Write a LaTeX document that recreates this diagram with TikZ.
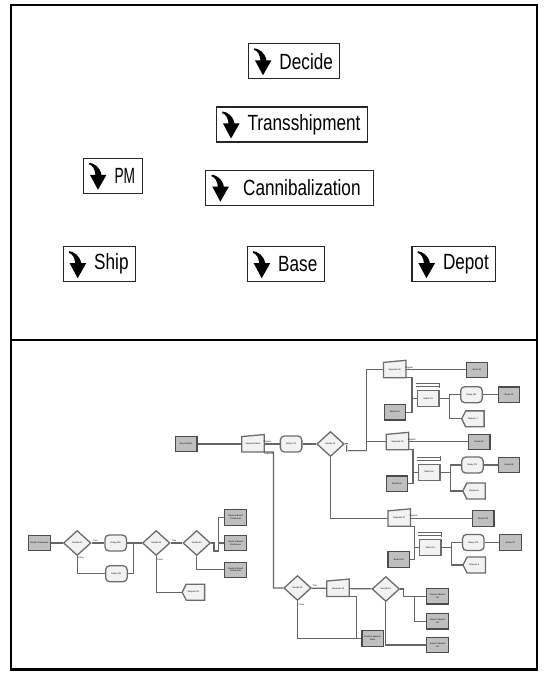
\documentclass[tikz,border=0pt]{standalone}
\usepackage{fontspec}
\newfontfamily\labelfont[FakeStretch=0.78]{Liberation Sans}
\newfontfamily\modfont{Liberation Sans}
\usetikzlibrary{shapes.geometric}
\newcommand{\tinytext}{\modfont\fontsize{2.2}{2.6}\selectfont}
\tikzset{frame/.style={line width=2.5pt,draw=black},
tbox/.style={rectangle,draw=black!85,line width=1.1pt,minimum height=35pt,inner xsep=7pt,font=\labelfont\fontsize{22}{26}\selectfont},
drop/.pic={\fill (0.5,1) .. controls (5,1.5) and (11,5) .. (12.5,13) -- (17.5,13) -- (9,28) -- (1,13) -- (6.5,13) .. controls (6,8) and (4,3.5) .. (0,2.5) -- cycle;},
modline/.style={draw=gray!85!black,line width=1.3pt,fill=gray!10},
stn/.style={rectangle,draw=gray!60!black,fill=gray!50,line width=1.1pt,minimum width=21.5pt,minimum height=15.5pt,inner sep=0pt,font=\tinytext,align=center},
dec/.style={diamond,modline,minimum width=27.5pt,minimum height=25pt,inner sep=0pt,font=\tinytext},
dly/.style={rectangle,rounded corners=4pt,modline,minimum width=21.5pt,minimum height=16pt,inner sep=0pt,font=\tinytext},
mat/.style={rectangle,modline,minimum width=21.5pt,minimum height=16pt,inner sep=0pt,font=\tinytext},
blank/.style={rectangle,minimum width=22pt,minimum height=15.5pt,inner sep=0pt},
modtext/.style={font=\tinytext,inner sep=0pt,align=center},
conn/.style={draw=gray!80!black,line width=1.2pt},
lbl/.style={font=\tinytext,inner sep=0.6pt}}
\newcommand{\sepmod}[3]{\node[blank] (#1) at (#2) {};
\filldraw[modline] (#1.south west) -- (#1.south east) -- ([yshift=1.5pt]#1.north east) -- ([yshift=-0.5pt]#1.north west) -- cycle;
\node[modtext] (#1t) at (#1) {#3};}
\newcommand{\dispmod}[3]{\node[blank] (#1) at (#2) {};
\filldraw[modline] (#1.north east) -- (#1.south east) -- ([xshift=4pt]#1.south west) -- (#1.west) -- ([xshift=4pt]#1.north west) -- cycle;
\node[modtext] (#1t) at (#1) {#3};}
\newcommand{\matchmod}[3]{\node[mat] (#1) at (#2) {#3};
\draw[conn,line width=0.8pt] ([shift={(-1pt,3.5pt)}]#1.north west) -- ([yshift=3.5pt]#1.north east) ([shift={(-1pt,6.5pt)}]#1.north west) -- ([yshift=6.5pt]#1.north east) ([yshift=2.5pt]#1.north east) -- ([yshift=7.5pt]#1.north east);}

\begin{document}
\begin{tikzpicture}[x=1pt,y=-1pt]
\useasboundingbox (0,0) rectangle (544,676);
\draw[frame] (11,5) rectangle (537,669.5);
\draw[frame] (11,340) -- (537,340);

%submodels
\node[tbox] (decide) at (294.2,61.3) {\hspace*{24pt}Decide};
\pic at ([xshift=6pt,yshift=14pt]decide.west) {drop};
\node[tbox] (transship) at (292,124.5) {\hspace*{24pt}Transshipment};
\pic at ([xshift=6pt,yshift=14pt]transship.west) {drop};
\node[tbox] (pm) at (112.8,175.8) {\hspace*{24pt}\scalebox{0.8}[1]{PM}};
\pic at ([xshift=6pt,yshift=14pt]pm.west) {drop};
\node[tbox,minimum width=168pt] (cannib) at (289.9,187.7) {\hspace*{24pt}Cannibalization};
\pic at ([xshift=6pt,yshift=14pt]cannib.west) {drop};
\node[tbox] (ship) at (99.4,264.2) {\hspace*{24pt}Ship};
\pic at ([xshift=6pt,yshift=14pt]ship.west) {drop};
\node[tbox] (base) at (285.8,264.2) {\hspace*{24pt}Base};
\pic at ([xshift=6pt,yshift=14pt]base.west) {drop};
\node[tbox] (depot) at (453.9,264.2) {\hspace*{24pt}Depot};
\pic at ([xshift=6pt,yshift=14pt]depot.west) {drop};

%ship logic
\node[stn] (bcont) at (39.4,543) {Board Continuous};
\node[dec] (d20) at (77.2,543) {Decide 20};
\node[dly] (dl308) at (115.7,543) {Delay 308};
\node[dly] (dl301) at (116.4,573.7) {Delay 301};
\node[dec] (d35) at (156.2,543) {Decide 35};
\node[dec] (d40) at (196.7,543) {Decide 40};
\node[stn] (rbc1) at (235.6,517.5) {Route to Base1\\Continuous};
\node[stn] (rbc2) at (235.6,543) {Route to Base2\\Continuous};
\node[stn] (rbc3) at (235.6,569.8) {Route to Base3\\Continuous};
\dispmod{disp33}{193.4,592.2}{Dispose 33}
\coordinate (j1) at (133.6,543);
\coordinate (j2) at (218.5,551);
\draw[conn] (bcont) -- (d20);
\draw[conn] (d20) -- node[lbl,above,pos=0.3]{True} (dl308);
\draw[conn] (d20.south) |- node[lbl,right,pos=0.05]{False} (dl301.west);
\draw[conn] (dl308) -- (j1) -- (d35);
\draw[conn] (dl301) -| (j1);
\draw[conn] (d35) -- node[lbl,above,pos=0.3]{True} (d40);
\draw[conn] (d35.south) |- node[lbl,right,pos=0.05]{False} (disp33.west);
\draw[conn] (d40.east) -| (214,551) -- (j2);
\draw[conn] (j2) |- (rbc2.west);
\draw[conn] (j2) |- (rbc1.west);
\draw[conn] (d40.south) |- (rbc3.west);

%base logic
\node[stn] (bstat) at (186.2,444) {Base Station};
\sepmod{sbase}{253,444}{Separate Base}
\node[dly] (dl175) at (291.1,444) {Delay 175};
\node[dec] (d12) at (330.5,444) {Decide 12};
\sepmod{s28}{394.7,369.8}{Separate 28}
\node[stn] (r31) at (477.1,369.8) {Route 31};
\matchmod{m15}{428.2,398.8}{Match 15}
\node[stn] (bu1) at (394.9,412.2) {Board Uni};
\node[dly] (dl300) at (471.5,394.7) {Delay 300};
\node[stn] (r10) at (509,394.7) {Route 10};
\dispmod{disp7}{472.9,418.8}{Dispose 7}
\sepmod{s29}{397.5,441.8}{Separate 29}
\node[stn] (r30) at (479.2,441.8) {Route 30};
\matchmod{m16}{429.1,472.2}{Match 16}
\node[stn] (bu2) at (397,483.7) {Board Uni};
\node[dly] (dl371) at (472.4,465) {Delay 371};
\node[stn] (r18) at (509,465) {Route 18};
\dispmod{disp8}{474,491}{Dispose 8}
\sepmod{s27}{399.2,518.3}{Separate 27}
\node[stn] (r200) at (483.2,518.3) {Route 200};
\matchmod{m14}{430.3,547.8}{Match 14}
\node[stn] (bu3) at (398.7,559.5) {Board Uni};
\node[dly] (dl373) at (473.3,542.5) {Delay 373};
\node[stn] (r32) at (510.4,542.5) {Route 32};
\dispmod{disp9}{474.2,565}{Dispose 9}
\node[dec] (d14) at (297.5,588) {Decide 14};
\sepmod{s36}{338,588.5}{Separate 36}
\node[dec] (d15) at (385.8,589) {Decide 15};
\node[stn] (rb1) at (437.5,596.2) {Route to Base1\\Uni};
\node[stn] (rb2) at (437.5,621.2) {Route to Base2\\Uni};
\node[stn] (rb3) at (437.5,645) {Route to Base3\\Uni};
\node[stn] (rdb) at (372.7,638.3) {Route to depot or\\Base};
\coordinate (c1) at (273.4,452);
\coordinate (bus) at (366.8,451);
\coordinate (k1) at (411.9,398.8);
\coordinate (k2) at (449.3,398.8);
\coordinate (k3) at (413,472.2);
\coordinate (k4) at (450.5,472.2);
\coordinate (k5) at (414.5,547.8);
\coordinate (k6) at (451.5,547.8);
\coordinate (k7) at (356.4,638.3);
\coordinate (k8) at (414.6,596.2);
\draw[conn] (bstat) -- (sbase);
\draw[conn] (sbase) -- node[lbl,above,pos=0.2]{Original} (dl175);
\draw[conn] (sbase.south east) -- node[lbl,below]{Duplicate} (c1) |- (d14.west);
\draw[conn] (dl175) -- (d12);
\draw[conn,double=gray!25,double distance=0.7pt,line width=0.5pt] (d12.east) -- ++(2,0) |- (bus);
\draw[conn] (bus) |- (s28.west);
\draw[conn] (bus) |- (s29.west);
\draw[conn] (d12.south) |- (s27.west);
\draw[conn] (s28) -- node[lbl,above,pos=0.05]{Original} (r31);
\draw[conn] (s28.south east) -| (k1) -- (m15.west);
\draw[conn] (bu1.east) -| (k1);
\draw[conn] (m15.east) -- (k2) |- (dl300.west);
\draw[conn] (k2) |- (disp7.west);
\draw[conn] (dl300) -- (r10);
\draw[conn] (s29) -- node[lbl,above,pos=0.05]{Original} (r30);
\draw[conn] (s29.south east) -| (k3) -- (m16.west);
\draw[conn] (bu2.east) -| (k3);
\draw[conn] (m16.east) -- (k4) |- (dl371.west);
\draw[conn] (k4) |- (disp8.west);
\draw[conn] (dl371) -- (r18);
\draw[conn] (s27) -- node[lbl,above,pos=0.05]{Original} (r200);
\draw[conn] (s27.south east) -| (k5) -- (m14.west);
\draw[conn] (bu3.east) -| (k5);
\draw[conn] (m14.east) -- (k6) |- (dl373.west);
\draw[conn] (k6) |- (disp9.west);
\draw[conn] (dl373) -- (r32);
\draw[conn] (d14) -- node[lbl,above,pos=0.2]{True} (s36);
\draw[conn] (d14.south) |- node[lbl,right,pos=0.05]{False} (rdb.west);
\draw[conn] (s36.south east) -| (k7);
\draw[conn] (s36) -- (d15);
\draw[conn] (d15.east) -- ++(3,0) |- (rb1.west);
\draw[conn] (k8) |- (rb2.west);
\draw[conn] (d15.south) |- (rb3.west);
\end{tikzpicture}
\end{document}
